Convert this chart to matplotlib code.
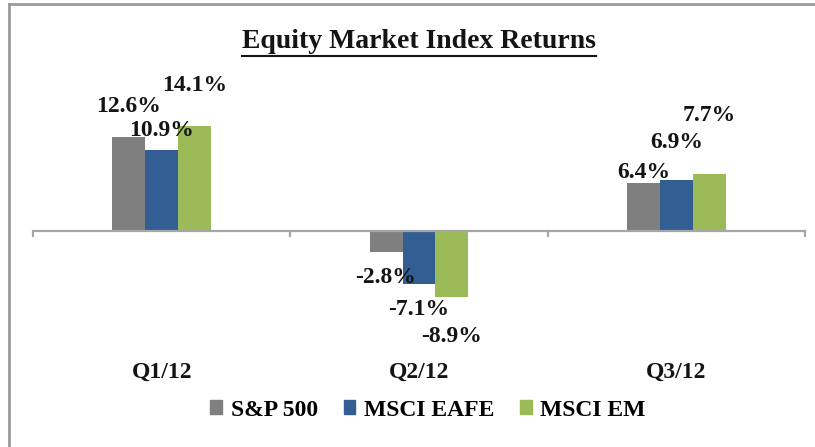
#!/usr/bin/env python3

import matplotlib
matplotlib.use("Agg")
import matplotlib.pyplot as plt
from matplotlib.patches import Patch
from matplotlib.lines import Line2D
from matplotlib.transforms import blended_transform_factory

categories = ["Q1/12", "Q2/12", "Q3/12"]
series = ["S&P 500", "MSCI EAFE", "MSCI EM"]
sp500 = [12.6, -2.8, 6.4]
eafe = [10.9, -7.1, 6.9]
em = [14.1, -8.9, 7.7]

colors = ["#7f7f7f", "#335e94", "#9bbb59"]
# where the data labels sit, pixels away from the end of each bar
label_offsets = [[31, -26, 11], [20, -26, 37], [41, -39, 58]]

plt.rcParams["font.family"] = ["Liberation Serif", "DejaVu Serif"]
plt.rcParams["font.weight"] = "bold"

W, H = 815, 447
fig = plt.figure(figsize=(W / 100, H / 100), dpi=100)
fig.patch.set_facecolor("white")

# axes placed in pixels: baseline at y=231, 7.43 px per percent
top_px, bot_px, base_px, scale = 60, 330, 231, 7.43
ax = fig.add_axes([33 / W, 1 - bot_px / H, (805 - 33) / W, (bot_px - top_px) / H])
ax.set_xlim(-0.5, 2.5)
ax.set_ylim(-(bot_px - base_px) / scale, (base_px - top_px) / scale)
ax.axis("off")

width = 0.128
xs = list(range(len(categories)))
for k, (vals, name) in enumerate(zip([sp500, eafe, em], series)):
    pos = [x + (k - 1) * width for x in xs]
    ax.bar(pos, vals, width=width, color=colors[k], label=name, zorder=2)
    for x, v, off in zip(pos, vals, label_offsets[k]):
        ax.annotate("%.1f%%" % v, (x, v), xytext=(0, off),
                    textcoords="offset pixels", ha="center", va="center",
                    fontsize=17, fontweight="bold", color="#141414")

# baseline with small ticks between categories
ax.axhline(0, color="#a6a6a6", lw=1.6, zorder=3)
for b in [-0.5, 0.5, 1.5, 2.5]:
    ax.plot([b, b], [0, -5 / scale], color="#a6a6a6", lw=1.6, zorder=3,
            clip_on=False)

tr = blended_transform_factory(ax.transData, fig.transFigure)
for x, c in zip(xs, categories):
    ax.text(x, 1 - 372 / H, c, transform=tr, ha="center", va="center",
            fontsize=17, fontweight="bold", color="#141414")

title = fig.text(419 / W, 1 - 42 / H, "Equity Market Index Returns",
                 ha="center", va="center", fontsize=20, fontweight="bold",
                 color="#141414")
fig.canvas.draw()
bb = title.get_window_extent().transformed(fig.transFigure.inverted())
fig.add_artist(Line2D([bb.x0, bb.x1], [1 - 56 / H] * 2, color="#141414",
                      lw=1.5, transform=fig.transFigure))

handles = [Patch(color=c) for c in colors]
fig.legend(handles, series, loc="center", bbox_to_anchor=(428 / W, 1 - 410 / H),
           ncol=3, frameon=False, handlelength=0.5, handleheight=0.5,
           handletextpad=0.35, columnspacing=1.1,
           prop={"size": 17, "weight": "bold"})

# frame lines on the left and top
fig.add_artist(Line2D([9 / W, 9 / W], [0, 1 - 4 / H], color="#9a9a9a", lw=2,
                      transform=fig.transFigure))
fig.add_artist(Line2D([9 / W, 1], [1 - 4 / H] * 2, color="#9a9a9a", lw=2,
                      transform=fig.transFigure))

fig.savefig("out.png", dpi=100)
